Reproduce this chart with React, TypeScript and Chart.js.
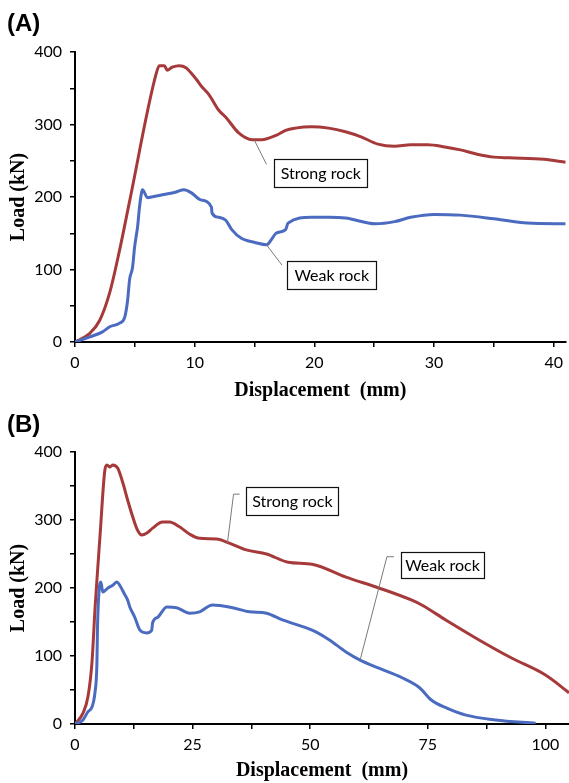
import React, { useEffect, useRef } from 'react';
import { Chart, registerables } from 'chart.js';

Chart.register(...registerables);

// ---- Data: panel (A), displacement (mm) / load (kN) ----
const strongA_x = [0, 1.24, 2.07, 2.9, 3.73, 4.56, 6.75, 7.05, 7.47, 7.7, 8.13, 8.7, 9.3, 9.7, 10.2, 10.6, 11.2, 12.0, 12.6, 13.7, 14.8, 15.6, 16.8, 17.6, 18.4, 19.75, 21.2, 22.6, 23.9, 25.3, 26.7, 28.05, 29.5, 30.9, 32.2, 33.6, 35.0, 36.3, 39.2, 41];
const strongA_y = [0, 12, 30, 68, 127, 194, 368, 381, 381, 375, 379, 381, 378, 371, 361, 352, 341, 320, 310, 288, 279, 279, 285, 292, 295, 297, 295, 290, 283, 273, 270, 272, 272, 269, 265, 259, 255, 254, 252, 248];

const weakA_x = [0, 1.24, 2.3, 2.9, 3.73, 4.15, 4.4, 4.56, 4.81, 4.98, 5.15, 5.23, 5.39, 5.56, 5.64, 6.06, 6.4, 7.3, 8.46, 9.1, 9.7, 10.5, 11.4, 11.45, 12.0, 12.6, 13.1, 13.9, 15.1, 16.0, 16.4, 16.8, 17.6, 17.8, 19.75, 21.2, 22.6, 25.1, 26.7, 28.05, 30.0, 32.2, 35.0, 37.8, 41];
const weakA_y = [0, 7, 14, 21, 26, 34, 58, 86, 103, 131, 150, 159, 186, 206, 210, 199, 200, 203, 207, 210, 206, 196, 186, 178, 172, 168, 155, 143, 137, 134, 141, 150, 155, 164, 172, 172, 171, 163, 166, 172, 176, 175, 170, 164, 163];

// ---- Data: panel (B) ----
const strongB_x = [0, 1.7, 2.75, 3.6, 4.3, 5.3, 6.36, 6.8, 7.4, 8.05, 9.1, 9.5, 10.2, 11.2, 12.3, 13.3, 14.2, 15.3, 16.5, 18.6, 20.1, 22.2, 24.4, 26.5, 30.1, 32.8, 36.4, 40.7, 45.3, 50.4, 57.6, 64.6, 71.6, 73.7, 78.8, 85.8, 92.8, 100, 105];
const strongB_y = [0, 16, 40, 90, 175, 275, 374, 381, 378, 381, 376, 369, 354, 329, 304, 285, 278, 281, 288, 297, 297, 290, 279, 273, 272, 266, 256, 250, 238, 235, 216, 200, 182, 175, 153, 124, 97, 72, 46];

const weakB_x = [0, 1.7, 2.75, 3.6, 4.24, 4.66, 4.77, 4.87, 5.3, 5.5, 5.9, 7.0, 8.05, 8.9, 9.5, 10.6, 11.2, 11.65, 12.7, 13.8, 15.25, 16.3, 16.5, 17.6, 19.5, 21.6, 24.4, 26.5, 29.2, 33.5, 37.1, 40.7, 44.1, 50.4, 54.0, 57.6, 60.6, 64.6, 69.5, 73.1, 75.8, 78.8, 83.1, 89.4, 97.9];
const weakB_y = [0, 6, 18, 25, 46, 90, 138, 163, 207, 209, 194, 200, 204, 209, 204, 190, 182, 172, 157, 138, 134, 138, 149, 157, 172, 171, 163, 165, 175, 171, 165, 163, 153, 138, 124, 106, 94, 82, 68, 54, 35, 24, 13, 6, 1];

// ---- Axis settings ----
const yTickValues = [0, 100, 200, 300, 400];
const xLabelsA = [0, 10, 20, 30, 40];
const xLabelsB = [0, 25, 50, 75, 100];

const RED = '#A63A3A';
const BLUE = '#4A6BBF';

type Ann = { text: string; cx: number; cy: number; w: number; h: number; leader: number[][] };

const annsA: Ann[] = [
  { text: 'Strong rock', cx: 20.54, cy: 233, w: 93, h: 28, leader: [[15.0, 278], [16.0, 245]] },
  { text: 'Weak rock', cx: 21.45, cy: 92, w: 89, h: 28, leader: [[16.0, 134], [17.3, 106]] },
];
const annsB: Ann[] = [
  { text: 'Strong rock', cx: 46.2, cy: 328, w: 92, h: 28, leader: [[32.4, 266], [33.7, 338], [35.0, 338]] },
  { text: 'Weak rock', cx: 78.1, cy: 234, w: 83, h: 26, leader: [[60.6, 94], [66.3, 246], [67.8, 246]] },
];

const zip = (xs: number[], ys: number[]) => xs.map((x, i) => ({ x, y: ys[i] }));

const boxPlugin = {
  id: 'boxAnnotations',
  afterDatasetsDraw(chart: any, _args: any, opts: any) {
    const items: Ann[] = opts.items || [];
    const xs = chart.scales.x;
    const ys = chart.scales.y;
    const ctx = chart.ctx;
    ctx.save();
    for (const a of items) {
      ctx.beginPath();
      a.leader.forEach(([lx, ly], i) => {
        const px = xs.getPixelForValue(lx);
        const py = ys.getPixelForValue(ly);
        if (i === 0) ctx.moveTo(px, py);
        else ctx.lineTo(px, py);
      });
      ctx.strokeStyle = '#7a7a7a';
      ctx.lineWidth = 1;
      ctx.stroke();
      const cx = xs.getPixelForValue(a.cx);
      const cy = ys.getPixelForValue(a.cy);
      const l = Math.round(cx - a.w / 2) + 0.5;
      const t = Math.round(cy - a.h / 2) + 0.5;
      ctx.fillStyle = '#ffffff';
      ctx.fillRect(l, t, a.w, a.h);
      ctx.strokeStyle = '#111';
      ctx.lineWidth = 1.2;
      ctx.strokeRect(l, t, a.w, a.h);
      ctx.font = '16px Lato';
      ctx.textAlign = 'center';
      ctx.textBaseline = 'middle';
      ctx.fillStyle = '#000';
      ctx.fillText(a.text, cx, cy + 1);
    }
    ctx.restore();
  },
};

type PanelProps = {
  height: number;
  padTop: number;
  xMax: number;
  xStep: number;
  xLabels: number[];
  strong: { x: number; y: number }[];
  weak: { x: number; y: number }[];
  anns: Ann[];
  titleBottom: number;
};

function Panel(p: PanelProps) {
  const ref = useRef<HTMLCanvasElement>(null);
  useEffect(() => {
    if (!ref.current) return;
    const chart = new Chart(ref.current, {
      type: 'line',
      data: {
        datasets: [
          { data: p.weak, borderColor: BLUE, borderWidth: 3, pointRadius: 0, cubicInterpolationMode: 'monotone' },
          { data: p.strong, borderColor: RED, borderWidth: 3, pointRadius: 0, cubicInterpolationMode: 'monotone' },
        ],
      } as any,
      options: {
        responsive: false,
        animation: false,
        layout: { padding: { top: p.padTop, right: 0, left: 0, bottom: 0 } },
        plugins: {
          legend: { display: false },
          tooltip: { enabled: false },
          boxAnnotations: { items: p.anns },
        } as any,
        scales: {
          x: {
            type: 'linear',
            min: 0,
            max: p.xMax,
            border: { display: true, color: '#000', width: 2 },
            grid: { display: true, drawOnChartArea: false, drawTicks: true, tickLength: 5, color: '#000', lineWidth: 1.5 },
            ticks: {
              stepSize: p.xStep,
              includeBounds: false,
              autoSkip: false,
              maxRotation: 0,
              padding: 6,
              color: '#000',
              font: { family: 'Lato', size: 16 },
              callback: (v: any) => (p.xLabels.includes(Number(v)) ? String(v) : ''),
            },
            title: {
              display: true,
              text: 'Displacement  (mm)',
              color: '#000',
              font: { family: 'Liberation Serif', size: 20, weight: 'bold', lineHeight: 1 },
              padding: { top: 0, bottom: p.titleBottom },
            },
            afterFit: (s: any) => {
              s.height = 59;
            },
          },
          y: {
            type: 'linear',
            min: 0,
            max: 400,
            border: { display: true, color: '#000', width: 2 },
            grid: { display: true, drawOnChartArea: false, drawTicks: true, tickLength: 5, color: '#000', lineWidth: 1.5 },
            ticks: {
              stepSize: 50,
              autoSkip: false,
              padding: 8,
              color: '#000',
              font: { family: 'Lato', size: 16 },
              callback: (v: any) => (yTickValues.includes(Number(v)) ? String(v) : ''),
            },
            title: {
              display: true,
              text: 'Load (kN)',
              color: '#000',
              font: { family: 'Liberation Serif', size: 20, weight: 'bold', lineHeight: 1 },
              padding: { top: 9, bottom: 0 },
            },
            afterFit: (s: any) => {
              s.width = 75;
            },
          },
        },
      } as any,
      plugins: [boxPlugin],
    });
    return () => chart.destroy();
  }, []);
  return <canvas ref={ref} width={569} height={p.height} style={{ display: 'block', width: 569, height: p.height }} />;
}

const labelStyle: React.CSSProperties = {
  position: 'absolute',
  left: 7,
  fontFamily: 'Liberation Sans, Arial, sans-serif',
  fontWeight: 'bold',
  fontSize: 24,
  lineHeight: '24px',
  color: '#000',
};

export default function App() {
  return (
    <div style={{ position: 'absolute', left: 0, top: 0, width: 569, height: 783, background: '#fff', overflow: 'hidden' }}>
      <div style={{ position: 'absolute', left: 0, top: 0 }}>
        <Panel height={401} padTop={52} xMax={41} xStep={5} xLabels={xLabelsA} strong={zip(strongA_x, strongA_y)} weak={zip(weakA_x, weakA_y)} anns={annsA} titleBottom={0} />
      </div>
      <div style={{ position: 'absolute', left: 0, top: 401 }}>
        <Panel height={382} padTop={51} xMax={105} xStep={12.5} xLabels={xLabelsB} strong={zip(strongB_x, strongB_y)} weak={zip(weakB_x, weakB_y)} anns={annsB} titleBottom={2} />
      </div>
      <div style={{ ...labelStyle, top: 11 }}>(A)</div>
      <div style={{ ...labelStyle, top: 412 }}>(B)</div>
    </div>
  );
}
